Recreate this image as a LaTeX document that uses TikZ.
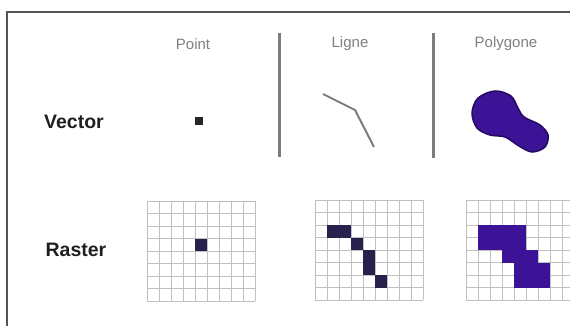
\documentclass[tikz,border=0pt]{standalone}
\usepackage{fontspec}
\setmainfont{Liberation Sans}
\usetikzlibrary{positioning,calc}
\definecolor{gisframe}{RGB}{85, 85, 85}
\definecolor{gissep}{RGB}{125, 125, 125}
\definecolor{gisgrid}{RGB}{192, 192, 192}
\definecolor{gisink}{RGB}{42, 32, 78}
\definecolor{gispurple}{RGB}{60, 18, 150}
\definecolor{gisdeep}{RGB}{36, 10, 96}

\begin{document}
\begin{tikzpicture}[x=1pt, y=-1pt]
    \tikzstyle{header} = [font=\fontsize{15}{18}\selectfont, text=black!50]
    \tikzstyle{rowlabel} = [font=\fontsize{19.5}{22}\selectfont\bfseries, text=black!88]
    \tikzstyle{gridline} = [draw=gisgrid, line width=0.9pt]
    \tikzstyle{sepline} = [draw=gissep, line width=3pt]

    \useasboundingbox (0,0) rectangle (570,326);
    \draw [gisframe, line width=2.5pt] (7,326) -- (7,12) -- (570,12);

    % column and row titles
    \node [header] (point) at (193,44) {Point};
    \node [header] (ligne) at (350,44) {Ligne};
    \node [header] (polygone) at (506,44) {Polygone};
    \node [rowlabel] (vector) at (74,122) {Vector};
    \node [rowlabel] (raster) at (76,250) {Raster};

    \draw [sepline] (279,33) -- (279,157);
    \draw [sepline] (433,33) -- (433,158);

    % vector features
    \node [fill=black!85, minimum size=8pt, inner sep=0pt] (pointfeat) at (199,121) {};
    \draw [gissep, line width=2pt, line join=round] (323,94) -- (355,110) -- (374,147);
    \filldraw [fill=gispurple, draw=gisdeep, line width=1.5pt]
      plot [smooth cycle, tension=0.55] coordinates {(495,91) (511,96) (518,108) (524,117) (540,125) (548,135) (545,147) (532,152) (519,146) (505,137) (490,135) (477,128) (472,113) (478,98)};

    % raster features
    \begin{scope}[shift={(147,201)}]
      \foreach \i in {0,...,9} \draw [gridline] (\i*12,0) -- (\i*12,100);
      \foreach \j in {0,...,8} \draw [gridline] (0,\j*12.5) -- (108,\j*12.5);
      \fill [gisink] (4*12,3*12.5) rectangle ++(12,12.5);
    \end{scope}
    \begin{scope}[shift={(315,200)}]
      \foreach \i in {0,...,9} \draw [gridline] (\i*12,0) -- (\i*12,100);
      \foreach \j in {0,...,8} \draw [gridline] (0,\j*12.5) -- (108,\j*12.5);
      \foreach \c/\r in {1/2,2/2,3/3,4/4,4/5,5/6}
        \fill [gisink] (\c*12,\r*12.5) rectangle ++(12,12.5);
    \end{scope}
    \begin{scope}[shift={(466,200)}]
      \foreach \i in {0,...,9} \draw [gridline] (\i*12,0) -- (\i*12,100);
      \foreach \j in {0,...,8} \draw [gridline] (0,\j*12.5) -- (108,\j*12.5);
      \fill [gispurple] (1*12,2*12.5) rectangle (5*12,4*12.5);
      \fill [gispurple] (3*12,4*12.5) rectangle (6*12,5*12.5);
      \fill [gispurple] (4*12,5*12.5) rectangle (7*12,7*12.5);
    \end{scope}
\end{tikzpicture}
\end{document}
